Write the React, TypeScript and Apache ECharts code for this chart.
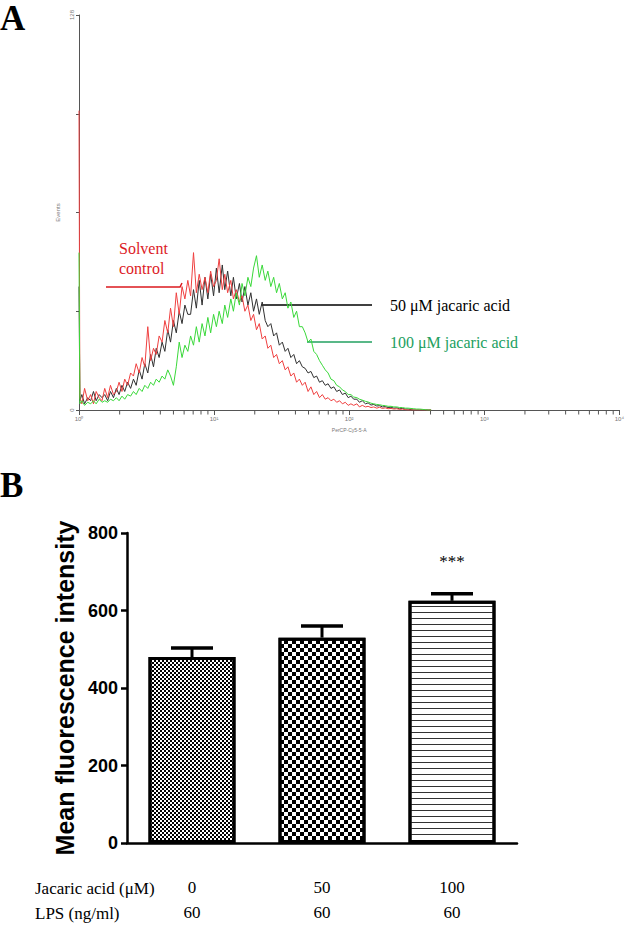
import React, { useEffect, useRef } from 'react';
import * as echarts from 'echarts';

// ---------- Panel A: flow cytometry histogram (PerCP-Cy5-5-A channel) ----------
const channels = [
  1.0, 1.015, 1.05, 1.1, 1.16, 1.22, 1.28, 1.34, 1.41, 1.48,
  1.55, 1.63, 1.71, 1.8, 1.89, 1.98, 2.08, 2.18, 2.29, 2.41,
  2.53, 2.65, 2.79, 2.93, 3.07, 3.23, 3.39, 3.56, 3.73, 3.92,
  4.12, 4.32, 4.54, 4.76, 5.0, 5.25, 5.52, 5.79, 6.08, 6.39,
  6.7, 7.04, 7.39, 7.76, 8.15, 8.56, 8.99, 9.43, 9.91, 10.4,
  10.9, 11.5, 12.0, 12.6, 13.3, 13.9, 14.6, 15.4, 16.1, 16.9,
  17.8, 18.7, 19.6, 20.6, 21.6, 22.7, 23.9, 25.0, 26.3, 27.6,
  29.0, 30.4, 32.0, 33.6, 35.2, 37.0, 38.9, 40.8, 42.8, 45.0,
  47.2, 49.6, 52.1, 54.7, 57.4, 60.3, 63.3, 66.5, 69.8, 73.3,
  77.0, 80.8, 84.9, 89.1, 93.6, 98.3, 103, 108, 114, 119,
  125, 132, 138, 145, 152, 160, 168, 176, 185, 194,
  204, 214, 225, 236, 248, 260, 273, 287, 301, 316,
  332, 349, 366, 385, 404,
];

const solventControl = [
  97, 4, 2, 7, 3, 5, 2, 6, 4, 3,
  7, 4, 8, 5, 6, 9, 6, 10, 8, 12,
  11, 15, 12, 17, 14, 27, 16, 20, 18, 24,
  22, 29, 25, 33, 27, 38, 31, 40, 36, 42,
  37, 51, 38, 44, 39, 43, 38, 45, 40, 42,
  49, 39, 44, 38, 42, 36, 39, 35, 37, 32,
  34, 29, 31, 26, 28, 23, 24, 20, 21, 17,
  18, 15, 16, 13, 14, 11, 12, 9, 10, 8,
  9, 6, 7.5, 5, 6, 4, 5, 3.5, 4, 3,
  3.5, 2.5, 3, 2, 2.5, 1.5, 2, 1.5, 2, 1,
  1.5, 1, 1.2, 0.8, 1, 0.6, 0.9, 0.5, 0.7, 0.4,
  0.5, 0.3, 0.4, 0.2, 0.3, 0.1, 0, 0, 0, 0,
  0, 0, 0, 0, 0,
];

const jacaric50 = [
  40, 3, 5, 2, 4, 3, 6, 3, 5, 4,
  5, 3, 6, 4, 7, 5, 8, 6, 9, 7,
  10, 8, 13, 10, 15, 12, 18, 14, 20, 17,
  22, 19, 26, 22, 29, 25, 32, 28, 34, 31,
  31, 39, 33, 42, 34, 43, 36, 44, 37, 46,
  38, 47, 39, 45, 37, 43, 36, 41, 35, 40,
  34, 38, 32, 36, 31, 35, 29, 27, 28, 24,
  25, 21, 22, 19, 20, 17, 18, 15, 16, 14,
  13.5, 12, 12.5, 10.5, 11, 9, 9.5, 8, 8.5, 7,
  7.5, 6, 6.5, 5, 5.5, 4, 4.5, 3.5, 3.5, 2.5,
  3, 2, 2.3, 1.6, 1.8, 1.3, 1.4, 1, 1.1, 0.8,
  0.9, 0.6, 0.7, 0.4, 0.5, 0.3, 0.3, 0.1, 0, 0,
  0, 0, 0, 0, 0,
];

const jacaric100 = [
  51, 2, 3, 1.5, 2.5, 2, 3, 2, 3.5, 2.5,
  3, 2.5, 3.5, 3, 4, 3, 4.5, 3.5, 5, 4.5,
  6, 5, 7, 6, 8, 7, 9, 8, 10, 9,
  11, 10, 13, 11, 8, 14, 22, 17, 21, 19,
  24, 21, 27, 22, 28, 24, 30, 25, 31, 27,
  32, 28, 34, 30, 36, 32, 38, 34, 41, 37,
  43, 40, 46, 50, 43, 47, 42, 45, 40, 43,
  38, 41, 36, 38, 33, 35, 30, 32, 27, 27,
  25, 22, 23, 19, 18, 16, 14.5, 13, 12, 10,
  9.5, 8, 7.5, 6.5, 6, 5, 5, 4.2, 4, 3.5,
  3.2, 2.8, 2.6, 2.2, 2, 1.8, 1.7, 1.5, 1.4, 1.2,
  1.2, 1, 1, 0.8, 0.8, 0.6, 0.6, 0.5, 0.4, 0.3,
  0.3, 0.2, 0.1, 0, 0,
];

const eventsTickLabels = [0, 128];
const logMinorTicks = [
  2, 3, 4, 5, 6, 7, 8, 9,
  20, 30, 40, 50, 60, 70, 80, 90,
  200, 300, 400, 500, 600, 700, 800, 900,
  2000, 3000, 4000, 5000, 6000, 7000, 8000, 9000,
];
const superscripts = ['⁰', '¹', '²', '³', '⁴'];

// ---------- Panel B: mean fluorescence intensity ----------
const jacaricDoses = ['0', '50', '100'];
const lpsDoses = ['60', '60', '60'];
const meanFluorescence = [480, 530, 625];
const semFluorescence = [23, 30, 18];
const significance = ['', '', '***'];

const SERIF = '"Liberation Serif", "Times New Roman", serif';
const SANS = '"Liberation Sans", Arial, sans-serif';

export default function App() {
  const ref = useRef<HTMLDivElement>(null);

  useEffect(() => {
    const chart = echarts.init(ref.current as HTMLDivElement, null, { renderer: 'svg' });

    const toPairs = (ys: number[]) => channels.map((c, i) => [c, ys[i]]);

    const decals = [
      { symbol: 'rect', symbolSize: 1, color: '#000', dashArrayX: [[2, 2], [0, 2, 2, 0]], dashArrayY: [2, 0], rotation: 0 },
      { symbol: 'rect', symbolSize: 1, color: '#000', dashArrayX: [[4, 4], [0, 4, 4, 0]], dashArrayY: [4, 0], rotation: 0 },
      { symbol: 'rect', symbolSize: 1, color: '#333', dashArrayX: [1, 0], dashArrayY: [1, 5], rotation: 0 },
    ];

    const option: any = {
      animation: false,
      backgroundColor: '#fff',
      grid: [
        { left: 79, top: 15, width: 542, height: 395 },
        { left: 127, top: 533, width: 390, height: 310 },
      ],
      xAxis: [
        {
          type: 'log',
          logBase: 10,
          gridIndex: 0,
          min: 1,
          max: 10000,
          axisLine: { lineStyle: { color: '#555', width: 1 } },
          axisTick: { length: 5, lineStyle: { color: '#555', width: 1 } },
          axisLabel: {
            fontSize: 6,
            color: '#777',
            fontFamily: SANS,
            margin: 6,
            formatter: (v: number) => '10' + superscripts[Math.round(Math.log10(v))],
          },
          splitLine: { show: false },
          name: 'PerCP-Cy5-5-A',
          nameLocation: 'middle',
          nameGap: 17,
          nameTextStyle: { fontSize: 5, color: '#777', fontFamily: SANS },
        },
        {
          type: 'category',
          gridIndex: 1,
          data: jacaricDoses,
          axisLine: { lineStyle: { color: '#000', width: 2.5 } },
          axisTick: { alignWithLabel: true, length: 8, lineStyle: { color: '#000', width: 2 } },
          axisLabel: {
            margin: 32,
            formatter: (v: string, i: number) => `{a|${v}}\n{a|${lpsDoses[i]}}`,
            rich: {
              a: { fontFamily: SERIF, fontSize: 17, lineHeight: 25, color: '#000' },
            },
          },
        },
      ],
      yAxis: [
        {
          type: 'value',
          gridIndex: 0,
          min: 0,
          max: 128,
          interval: 32,
          axisLine: { show: true, lineStyle: { color: '#555', width: 1 } },
          axisTick: { show: true, length: 3, lineStyle: { color: '#555', width: 1 } },
          axisLabel: {
            rotate: 90,
            fontSize: 6,
            color: '#777',
            fontFamily: SANS,
            margin: 4,
            formatter: (v: number) => (eventsTickLabels.indexOf(v) >= 0 ? String(v) : ''),
          },
          splitLine: { show: false },
          name: 'Events',
          nameLocation: 'middle',
          nameRotate: 90,
          nameGap: 9,
          nameTextStyle: { fontSize: 6, color: '#777', fontFamily: SANS },
        },
        {
          type: 'value',
          gridIndex: 1,
          min: 0,
          max: 800,
          interval: 200,
          axisLine: { show: true, lineStyle: { color: '#000', width: 2.5 } },
          axisTick: { show: true, length: 6, lineStyle: { color: '#000', width: 2.5 } },
          axisLabel: { fontFamily: SANS, fontWeight: 'bold', fontSize: 18, color: '#000', margin: 9 },
          splitLine: { show: false },
          name: 'Mean fluorescence intensity',
          nameLocation: 'middle',
          nameRotate: 90,
          nameGap: 43,
          nameTextStyle: { fontFamily: SANS, fontWeight: 'bold', fontSize: 25, color: '#000' },
        },
      ],
      series: [
        {
          name: '50 μM jacaric acid',
          type: 'line',
          xAxisIndex: 0,
          yAxisIndex: 0,
          data: toPairs(jacaric50),
          symbol: 'none',
          lineStyle: { color: '#303030', width: 1 },
          z: 3,
        },
        {
          name: 'Solvent control',
          type: 'line',
          xAxisIndex: 0,
          yAxisIndex: 0,
          data: toPairs(solventControl),
          symbol: 'none',
          lineStyle: { color: '#ef4040', width: 1 },
          z: 4,
        },
        {
          name: '100 μM jacaric acid',
          type: 'line',
          xAxisIndex: 0,
          yAxisIndex: 0,
          data: toPairs(jacaric100),
          symbol: 'none',
          lineStyle: { color: '#3ad83a', width: 1 },
          z: 5,
        },
        {
          name: 'minor ticks',
          type: 'custom',
          xAxisIndex: 0,
          yAxisIndex: 0,
          clip: false,
          silent: true,
          data: logMinorTicks.map((v) => [v, 0]),
          renderItem: (params: any, api: any) => {
            const p = api.coord([api.value(0), 0]);
            return {
              type: 'line',
              shape: { x1: p[0], y1: p[1], x2: p[0], y2: p[1] + 4.5 },
              style: { stroke: '#555', lineWidth: 1 },
            };
          },
        },
        {
          name: 'MFI',
          type: 'bar',
          xAxisIndex: 1,
          yAxisIndex: 1,
          barWidth: 87,
          data: meanFluorescence.map((v, i) => ({
            value: v,
            itemStyle: { color: '#fff', borderColor: '#000', borderWidth: 3, decal: decals[i] },
          })),
          z: 2,
        },
        {
          name: 'SEM',
          type: 'custom',
          xAxisIndex: 1,
          yAxisIndex: 1,
          clip: false,
          silent: true,
          z: 3,
          data: meanFluorescence.map((v, i) => [i, v, semFluorescence[i]]),
          renderItem: (params: any, api: any) => {
            const idx = api.value(0);
            const mean = api.value(1);
            const err = api.value(2);
            const p0 = api.coord([idx, mean]);
            const p1 = api.coord([idx, mean + err]);
            const children: any[] = [
              { type: 'line', shape: { x1: p0[0], y1: p0[1], x2: p1[0], y2: p1[1] }, style: { stroke: '#000', lineWidth: 3 } },
              { type: 'line', shape: { x1: p1[0] - 21, y1: p1[1], x2: p1[0] + 21, y2: p1[1] }, style: { stroke: '#000', lineWidth: 3.5 } },
            ];
            const sig = significance[params.dataIndex];
            if (sig) {
              children.push({
                type: 'text',
                x: p1[0],
                y: p1[1] - 32,
                style: { text: sig, font: `17px ${SERIF}`, fill: '#000', textAlign: 'center', textVerticalAlign: 'middle' },
              });
            }
            return { type: 'group', children };
          },
        },
      ],
      graphic: [
        { type: 'text', x: 0, y: 18.5, style: { text: 'A', font: `bold 35px ${SERIF}`, fill: '#000', textAlign: 'left', textVerticalAlign: 'middle' } },
        { type: 'text', x: 0, y: 485, style: { text: 'B', font: `bold 35px ${SERIF}`, fill: '#000', textAlign: 'left', textVerticalAlign: 'middle' } },
        { type: 'text', x: 119, y: 248, style: { text: 'Solvent', font: `16px ${SERIF}`, fill: '#dc1a1f', textAlign: 'left', textVerticalAlign: 'middle' } },
        { type: 'text', x: 119, y: 268, style: { text: 'control', font: `16px ${SERIF}`, fill: '#dc1a1f', textAlign: 'left', textVerticalAlign: 'middle' } },
        { type: 'polyline', shape: { points: [[106, 287], [180, 287], [182, 283]] }, style: { stroke: '#dc1a1f', lineWidth: 1.5, fill: null } },
        { type: 'line', shape: { x1: 261, y1: 305, x2: 372, y2: 305 }, style: { stroke: '#000', lineWidth: 1.5 } },
        { type: 'text', x: 390, y: 305, style: { text: '50 μM jacaric acid', font: `16px ${SERIF}`, fill: '#000', textAlign: 'left', textVerticalAlign: 'middle' } },
        { type: 'line', shape: { x1: 307, y1: 342, x2: 372, y2: 342 }, style: { stroke: '#22a060', lineWidth: 1.5 } },
        { type: 'text', x: 390, y: 342, style: { text: '100 μM jacaric acid', font: `16px ${SERIF}`, fill: '#22a060', textAlign: 'left', textVerticalAlign: 'middle' } },
        { type: 'text', x: 35, y: 888, style: { text: 'Jacaric acid (μM)', font: `17px ${SERIF}`, fill: '#000', textAlign: 'left', textVerticalAlign: 'middle' } },
        { type: 'text', x: 35, y: 913, style: { text: 'LPS (ng/ml)', font: `17px ${SERIF}`, fill: '#000', textAlign: 'left', textVerticalAlign: 'middle' } },
      ],
    };

    chart.setOption(option);
    return () => chart.dispose();
  }, []);

  return (
    <div
      ref={ref}
      style={{ position: 'absolute', left: 0, top: 0, width: 627, height: 947, background: '#fff' }}
    />
  );
}
